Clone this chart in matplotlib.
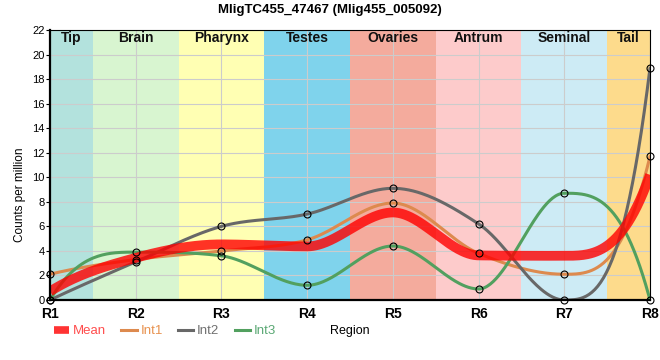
import numpy as np
import matplotlib
matplotlib.use("Agg")
import matplotlib.pyplot as plt
from matplotlib.lines import Line2D

# ---- data ----
regions = ["R1", "R2", "R3", "R4", "R5", "R6", "R7", "R8"]
tissues = ["Tip", "Brain", "Pharynx", "Testes", "Ovaries", "Antrum", "Seminal", "Tail"]
tissue_colors = ["#b3e2dd", "#d8f5d0", "#ffffb3", "#7fd3ec",
                 "#f4ab9d", "#fdcbcb", "#cdebf5", "#fddb8c"]
int1 = [2.1, 3.3, 4.0, 4.9, 7.9, 3.8, 2.1, 11.7]
int2 = [0.0, 3.1, 6.0, 7.0, 9.1, 6.2, 0.0, 18.9]
int3 = [0.0, 3.9, 3.6, 1.2, 4.4, 0.9, 8.7, 0.0]
mean = list(np.mean([int1, int2, int3], axis=0))
title = "MligTC455_47467 (Mlig455_005092)"

plt.rcParams["font.family"] = ["Liberation Sans", "DejaVu Sans"]


def smooth(y, n=60):
    """Monotone cubic Hermite curve through the points."""
    y = np.asarray(y, float)
    N = len(y)
    s = np.diff(y)
    m = np.zeros(N)
    for i in range(1, N - 1):
        if np.sign(s[i - 1]) != np.sign(s[i]) or s[i - 1] == 0 or s[i] == 0:
            m[i] = 0.0
        else:
            m[i] = (s[i - 1] + s[i]) / 2
    m[0] = 3 * s[0] - 2 * m[1]
    m[-1] = 3 * s[-1] - 2 * m[-2]
    for i in range(N - 1):
        d = s[i]
        if abs(d) < 1e-9:
            m[i] = m[i + 1] = 0
            continue
        a, b = m[i] / d, m[i + 1] / d
        if a < 0:
            m[i] = 0; a = 0
        if b < 0:
            m[i + 1] = 0; b = 0
        q = a * a + b * b
        if q > 9:
            tau = 3 / np.sqrt(q)
            m[i] = tau * a * d
            m[i + 1] = tau * b * d
    xs, ys = [], []
    u = np.linspace(0, 1, n)
    h00 = 2 * u**3 - 3 * u**2 + 1
    h10 = u**3 - 2 * u**2 + u
    h01 = -2 * u**3 + 3 * u**2
    h11 = u**3 - u**2
    for i in range(N - 1):
        xs.append(i + u)
        ys.append(h00 * y[i] + h10 * m[i] + h01 * y[i + 1] + h11 * m[i + 1])
    return np.concatenate(xs), np.concatenate(ys)


fig = plt.figure(figsize=(6.6, 3.6), dpi=100)
ax = fig.add_axes([50 / 660, 60 / 360, 600 / 660, 270 / 360])
x = np.arange(len(regions))

# background bands
for i, (name, col) in enumerate(zip(tissues, tissue_colors)):
    lo = max(i - 0.5, 0)
    hi = min(i + 0.5, len(regions) - 1)
    ax.axvspan(lo, hi, color=col, lw=0, zorder=0.2)
    ax.text((lo + hi) / 2, 21.95, name, ha="center", va="top", fontsize=10,
            fontweight="bold", color="#111111", zorder=5)

ax.set_axisbelow(True)
ax.grid(True, color="#cccccc", lw=0.8)

series = [("Int1", int1, "#dd8a4e"), ("Int2", int2, "#686868"), ("Int3", int3, "#52a05f")]
for name, vals, col in series:
    sx, sy = smooth(vals)
    ax.plot(sx, sy, color=col, lw=2.2, zorder=3, solid_capstyle="round")

mx, my = smooth(mean)
ax.plot(mx, my, color="#ff0000", alpha=0.8, lw=7, zorder=4, solid_capstyle="butt")

for name, vals, col in series:
    ax.plot(x, vals, ls="none", marker="o", ms=5, mfc="none", mec="black",
            mew=0.8, zorder=6, clip_on=False)

ax.set_xlim(0, len(regions) - 1)
ax.set_ylim(0, 22)
ax.set_yticks(np.arange(0, 23, 2))
ax.set_xticks(x)
ax.set_xticklabels(regions, fontweight="bold", fontsize=10)
ax.tick_params(axis="x", length=0, pad=5)
ax.tick_params(axis="y", length=3, width=0.8, labelsize=8, pad=1)
for side in ["left", "bottom"]:
    ax.spines[side].set_linewidth(1.6)
for side in ["top", "right"]:
    ax.spines[side].set_linewidth(0.8)
ax.spines["bottom"].set_zorder(7)
ax.spines["left"].set_zorder(7)

fig.text(0.5, 1 - 10 / 360, title, ha="center", va="center",
         fontsize=9.5, fontweight="bold")
fig.text(20 / 660, 165 / 360, "Counts per million", rotation=90,
         ha="center", va="center", fontsize=8.5)
fig.text(350 / 660, 1 - 331 / 360, "Region", ha="center", va="center", fontsize=9)

handles = [Line2D([], [], color="#ff0000", alpha=0.8, lw=5.5, solid_capstyle="butt"),
           Line2D([], [], color="#dd8a4e", lw=2.2),
           Line2D([], [], color="#686868", lw=2.2),
           Line2D([], [], color="#52a05f", lw=2.2)]
labels = ["Mean", "Int1", "Int2", "Int3"]
leg = fig.legend(handles, labels, loc="center left",
                 bbox_to_anchor=(54 / 660, 1 - 331 / 360), ncol=4, frameon=False,
                 fontsize=9.5, handlelength=1.15, handletextpad=0.3,
                 columnspacing=1.15, borderpad=0, borderaxespad=0)
for t, c in zip(leg.get_texts(), ["#ff4d4d", "#e8924f", "#707070", "#5aa874"]):
    t.set_color(c)

fig.savefig("out.png", dpi=100)
